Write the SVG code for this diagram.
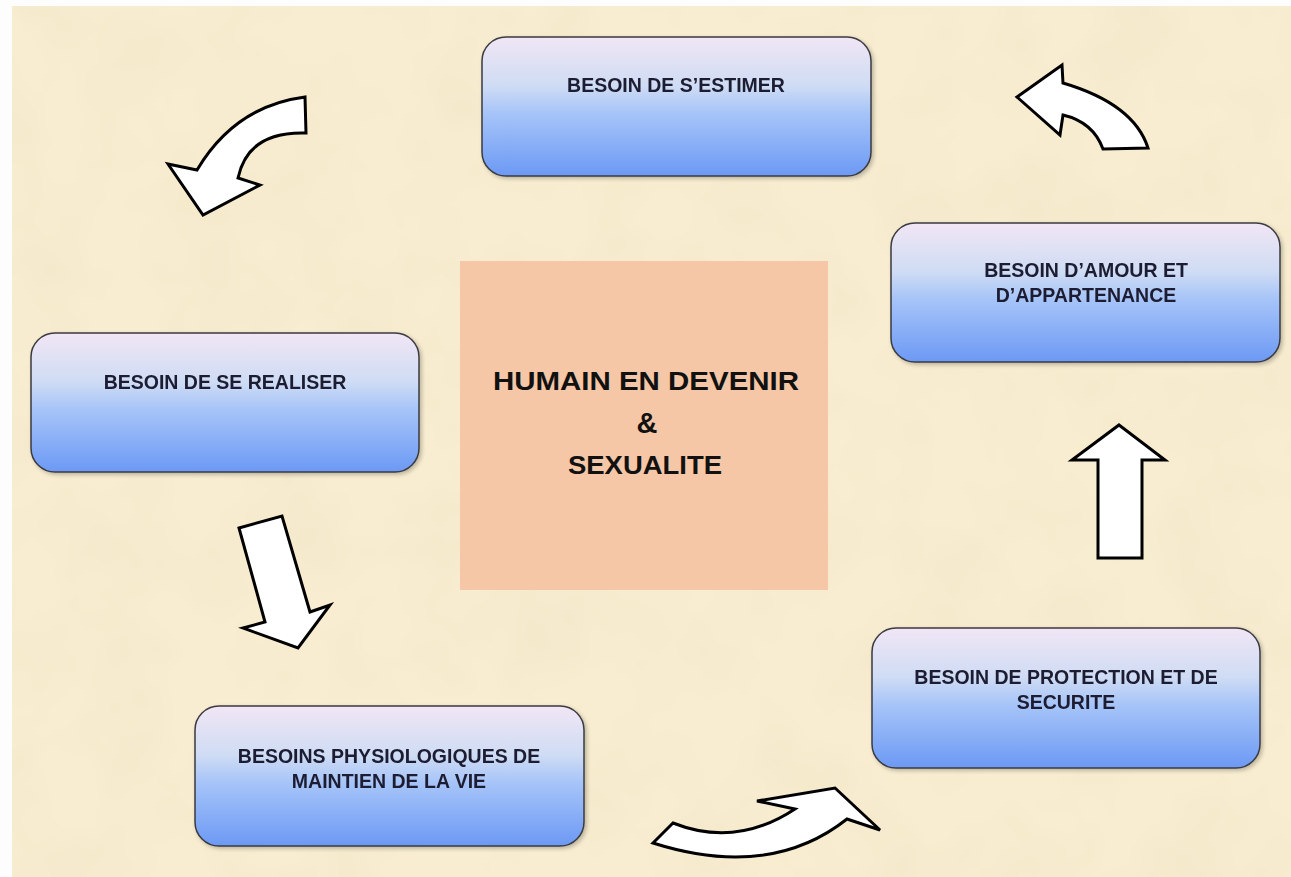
<svg xmlns="http://www.w3.org/2000/svg" width="1291" height="877" viewBox="0 0 1291 877">
<defs>
<linearGradient id="boxGrad" x1="0" y1="0" x2="0" y2="1">
<stop offset="0" stop-color="#f1e6f5"/>
<stop offset="0.35" stop-color="#cfdcf4"/>
<stop offset="0.55" stop-color="#a6c4f8"/>
<stop offset="1" stop-color="#6c99f4"/>
</linearGradient>
<filter id="tex" x="0" y="0" width="100%" height="100%">
<feTurbulence type="fractalNoise" baseFrequency="0.012" numOctaves="3" seed="7"/>
<feColorMatrix type="matrix" values="0 0 0 0 0.86  0 0 0 0 0.76  0 0 0 0 0.56  0 0 0 0.7 -0.25"/>
</filter>
<filter id="shadow" x="-5%" y="-5%" width="112%" height="115%">
<feGaussianBlur in="SourceAlpha" stdDeviation="2"/>
<feOffset dx="2" dy="2" result="b"/>
<feComponentTransfer><feFuncA type="linear" slope="0.25"/></feComponentTransfer>
<feMerge><feMergeNode/><feMergeNode in="SourceGraphic"/></feMerge>
</filter>
</defs>
<style>
.box{fill:url(#boxGrad);stroke:#3a3a40;stroke-width:1.5}
.lbl{font-family:"Liberation Sans",Arial,sans-serif;font-weight:bold;font-size:19.5px;fill:#1c1c30;text-anchor:middle}
.ctr{font-family:"Liberation Sans",Arial,sans-serif;font-weight:bold;font-size:26px;fill:#111;text-anchor:middle}
.arr{fill:#ffffff;stroke:#000;stroke-width:3;stroke-linejoin:miter}
</style>
<rect x="0" y="0" width="1291" height="877" fill="#fdfdfd"/>
<rect x="12" y="6" width="1279" height="871" fill="#f8edd0"/>
<rect x="12" y="6" width="1279" height="871" filter="url(#tex)"/>

<g id="center">
<rect x="460" y="261" width="368" height="329" fill="#f6c7a7"/>
<text class="ctr" x="646" y="390" textLength="306" lengthAdjust="spacingAndGlyphs">HUMAIN EN DEVENIR</text>
<text class="ctr" x="647" y="433" style="font-size:29px">&amp;</text>
<text class="ctr" x="645" y="474" textLength="154" lengthAdjust="spacingAndGlyphs">SEXUALITE</text>
</g>

<g id="n-estime" filter="url(#shadow)">
<rect class="box" x="482" y="37" width="389" height="139" rx="24"/>
<text class="lbl" x="676" y="92">BESOIN DE S’ESTIMER</text>
</g>
<g id="n-amour" filter="url(#shadow)">
<rect class="box" x="891" y="223" width="389" height="139" rx="24"/>
<text class="lbl" x="1086" y="277">BESOIN D’AMOUR ET</text>
<text class="lbl" x="1086" y="302">D’APPARTENANCE</text>
</g>
<g id="n-realiser" filter="url(#shadow)">
<rect class="box" x="31" y="333" width="388" height="139" rx="24"/>
<text class="lbl" x="225" y="389">BESOIN DE SE REALISER</text>
</g>
<g id="n-physio" filter="url(#shadow)">
<rect class="box" x="195" y="706" width="389" height="140" rx="24"/>
<text class="lbl" x="389" y="763">BESOINS PHYSIOLOGIQUES DE</text>
<text class="lbl" x="389" y="788">MAINTIEN DE LA VIE</text>
</g>
<g id="n-protection" filter="url(#shadow)">
<rect class="box" x="872" y="628" width="388" height="140" rx="24"/>
<text class="lbl" x="1066" y="684">BESOIN DE PROTECTION ET DE</text>
<text class="lbl" x="1066" y="709">SECURITE</text>
</g>

<g id="connectors">
<path class="arr" d="M305,97 Q235,106 197,170 L168,164 L203,215 L260,185 L238,178 Q248,131 306,133 Z"/>
<path class="arr" d="M239,528 L282,516 L310,612 L330,605 L298,648 L243,628 L265,622 Z"/>
<path class="arr" d="M673,823 Q736,848 795,809 L757,801 L835,788 L880,830 L847,819 Q770,880 653,843 Z"/>
<path class="arr" d="M1119,425 L1165,460 L1142,460 L1142,558 L1098,558 L1098,460 L1072,460 Z"/>
<path class="arr" d="M1017,97 L1062,65 L1063,83 Q1134,104 1148,148 L1103,149 Q1093,122 1063,115 L1060,135 Z"/>
</g>
</svg>
